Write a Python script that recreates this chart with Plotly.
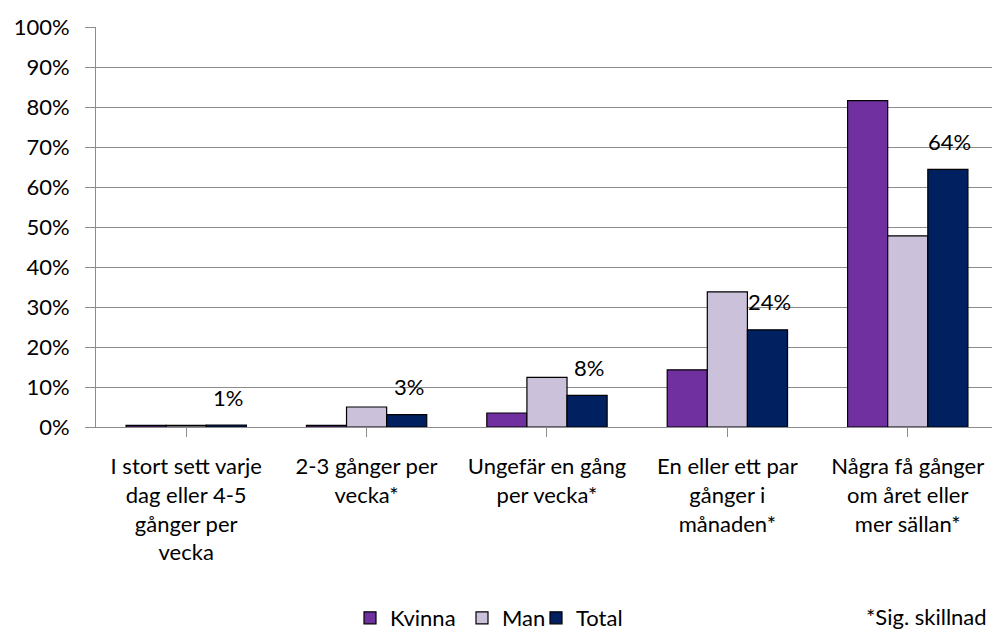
import plotly.graph_objects as go

categories = [
    "I stort sett varje<br>dag eller 4-5<br>gånger per<br>vecka",
    "2-3 gånger per<br>vecka*",
    "Ungefär en gång<br>per vecka*",
    "En eller ett par<br>gånger i<br>månaden*",
    "Några få gånger<br>om året eller<br>mer sällan*",
]
kvinna = [0.4, 0.4, 3.5, 14.3, 81.6]
man = [0.4, 5.0, 12.4, 33.8, 47.8]
total = [0.5, 3.1, 7.9, 24.3, 64.4]
y_ticks = [0, 10, 20, 30, 40, 50, 60, 70, 80, 90, 100]
y_tick_labels = [f"{v}%" for v in y_ticks]

FONT = "Lato, Open Sans, sans-serif"
FS = 22
GRID = "#8c8c8c"
W, H = 992, 632
PL, PT, PB = 96, 27, 205
PLOT_H = H - PT - PB

series = [("Kvinna", kvinna, "#7030A0", "legend", 350),
          ("Man", man, "#CCC1DA", "legend2", 462),
          ("Total", total, "#002060", "legend3", 536)]

fig = go.Figure()
for name, vals, col, leg, _ in series:
    fig.add_trace(go.Bar(
        x=list(range(len(categories))), y=vals, name=name, legend=leg,
        marker=dict(color=col, line=dict(color="black", width=1.2)),
        hoverinfo="skip",
    ))

for i, v in enumerate(total):
    fig.add_annotation(
        x=i, y=v, xref="x", yref="y", text=f"{round(v + 0.001)}%",
        showarrow=False, xshift=42, yshift=28, yanchor="middle",
        font=dict(family=FONT, size=FS, color="black"),
    )

fig.add_annotation(
    x=1.0, y=(PLOT_H + PT - 616) / PLOT_H, xref="paper", yref="paper",
    text="*Sig. skillnad", showarrow=False, xanchor="right", yanchor="middle",
    xshift=-3, font=dict(family=FONT, size=FS, color="black"),
)

legend_common = dict(
    orientation="h", xref="container", yref="container",
    y=1 - 618 / H, xanchor="left", yanchor="middle",
    font=dict(family=FONT, size=FS, color="black"),
    itemwidth=30, bgcolor="rgba(0,0,0,0)", borderwidth=0,
)
legends = {}
for name, vals, col, leg, xpos in series:
    legends[leg] = dict(legend_common, x=xpos / W)

fig.update_layout(
    width=W, height=H,
    margin=dict(l=PL, r=0, t=PT, b=PB),
    paper_bgcolor="white", plot_bgcolor="white",
    barmode="group", bargap=0.333, bargroupgap=0,
    font=dict(family=FONT, size=FS, color="black"),
    showlegend=True,
    **legends,
)
fig.update_xaxes(
    tickmode="array", tickvals=list(range(len(categories))), ticktext=categories,
    range=[-0.5, 4.467], showgrid=False, showline=True, linecolor=GRID, linewidth=1,
    ticks="outside", ticklen=9, tickcolor=GRID, tickson="boundaries",
    tickangle=0, tickfont=dict(family=FONT, size=FS, color="black"),
    ticklabelstandoff=11, fixedrange=True,
)
fig.update_yaxes(
    range=[0, 100], tickmode="array", tickvals=y_ticks, ticktext=y_tick_labels,
    showgrid=True, gridcolor=GRID, gridwidth=1, showline=True, linecolor=GRID,
    linewidth=1, ticks="outside", ticklen=10, tickcolor=GRID, zeroline=False,
    tickfont=dict(family=FONT, size=FS, color="black"), ticklabelstandoff=11,
    fixedrange=True,
)

fig.write_html(
    "out.html",
    config={"displayModeBar": False},
    post_script="document.body.style.margin='0';document.documentElement.style.overflow='hidden';",
)
